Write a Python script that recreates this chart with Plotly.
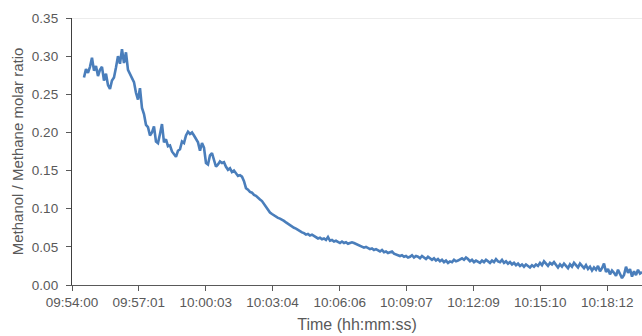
import plotly.graph_objects as go

# Tick labels of the time axis (hh:mm:ss)
tick_labels = ["09:54:00", "09:57:01", "10:00:03", "10:03:04", "10:06:06",
               "10:09:07", "10:12:09", "10:15:10", "10:18:12"]

# Sampling of the read-off trace (seconds after 09:54:00)
start_s = 32.5
step_s = 5.425

# Methanol / methane molar ratio
ratio = [
    0.272, 0.283, 0.278, 0.286, 0.298, 0.281, 0.287, 0.274, 0.282, 0.286,
    0.268, 0.277, 0.262, 0.257, 0.268, 0.272, 0.285, 0.300, 0.290, 0.309,
    0.291, 0.305, 0.282, 0.276, 0.271, 0.266, 0.252, 0.243, 0.258, 0.232,
    0.224, 0.210, 0.207, 0.196, 0.200, 0.208, 0.188, 0.186, 0.198, 0.211,
    0.187, 0.191, 0.182, 0.183, 0.175, 0.172, 0.168, 0.176, 0.178, 0.188,
    0.186, 0.196, 0.201, 0.198, 0.200, 0.196, 0.191, 0.187, 0.176, 0.186,
    0.180, 0.160, 0.158, 0.170, 0.173, 0.165, 0.155, 0.158, 0.162, 0.160,
    0.161, 0.155, 0.151, 0.153, 0.148, 0.150, 0.146, 0.143, 0.144, 0.142,
    0.136, 0.127, 0.125, 0.122, 0.121, 0.118, 0.117, 0.114, 0.112, 0.110,
    0.106, 0.103, 0.099, 0.095, 0.093, 0.091, 0.090, 0.088, 0.087, 0.086,
    0.084, 0.082, 0.080, 0.078, 0.077, 0.075, 0.074, 0.072, 0.070, 0.069,
    0.068, 0.066, 0.067, 0.065, 0.066, 0.064, 0.063, 0.061, 0.062, 0.060,
    0.061, 0.059, 0.063, 0.058, 0.059, 0.057, 0.058, 0.056, 0.055, 0.057,
    0.055, 0.056, 0.054, 0.055, 0.056, 0.055, 0.054, 0.053, 0.052, 0.050,
    0.049, 0.050, 0.048, 0.047, 0.048, 0.046, 0.047, 0.045, 0.044, 0.046,
    0.043, 0.044, 0.042, 0.043, 0.044, 0.041, 0.040, 0.039, 0.038, 0.039,
    0.037, 0.038, 0.036, 0.037, 0.039, 0.036, 0.038, 0.037, 0.035, 0.038,
    0.036, 0.034, 0.037, 0.035, 0.033, 0.035, 0.032, 0.034, 0.031, 0.033,
    0.030, 0.032, 0.029, 0.031, 0.030, 0.033, 0.031, 0.032, 0.034, 0.035,
    0.033, 0.036, 0.034, 0.031, 0.033, 0.030, 0.032, 0.031, 0.029, 0.032,
    0.030, 0.033, 0.031, 0.029, 0.032, 0.030, 0.034, 0.031, 0.030, 0.033,
    0.029, 0.031, 0.028, 0.030, 0.027, 0.029, 0.026, 0.028, 0.025, 0.027,
    0.024, 0.027, 0.025, 0.023, 0.026, 0.024, 0.027, 0.025, 0.029, 0.026,
    0.031, 0.028, 0.025, 0.029, 0.027, 0.030, 0.026, 0.023, 0.027, 0.024,
    0.028, 0.025, 0.022, 0.027, 0.024, 0.029, 0.026, 0.023, 0.028, 0.025,
    0.022, 0.026, 0.021, 0.024, 0.019, 0.023, 0.020, 0.025, 0.018, 0.022,
    0.028, 0.017, 0.021, 0.014, 0.019, 0.016, 0.012, 0.020, 0.015, 0.009,
    0.013, 0.024, 0.016, 0.021, 0.011, 0.018, 0.013, 0.020, 0.015, 0.017,
]

y_ticks = [0.00, 0.05, 0.10, 0.15, 0.20, 0.25, 0.30, 0.35]


def to_seconds(label):
    h, m, s = (int(p) for p in label.split(":"))
    return (h * 3600 + m * 60 + s) - (9 * 3600 + 54 * 60)


tick_vals = [to_seconds(t) for t in tick_labels]
elapsed = [start_s + i * step_s for i in range(len(ratio))]

font_family = "Liberation Sans, Arial, sans-serif"
grey_text = "#595959"

fig = go.Figure()
fig.add_trace(go.Scatter(
    x=elapsed, y=ratio, mode="lines",
    line=dict(color="#4a7ebb", width=2.6),
    hoverinfo="skip", showlegend=False,
))

fig.add_shape(type="line", xref="paper", yref="y", x0=0, x1=1, y0=0.35, y1=0.35,
              line=dict(color="#d9d9d9", width=1), layer="below")

fig.update_layout(
    width=642, height=336,
    margin=dict(l=72, r=0, t=18, b=51),
    paper_bgcolor="white", plot_bgcolor="white",
    font=dict(family=font_family, color=grey_text, size=13.5),
    xaxis=dict(
        automargin=False,
        range=[0, start_s + (len(ratio) - 1) * step_s],
        tickmode="array", tickvals=tick_vals, ticktext=tick_labels,
        showgrid=False, zeroline=False,
        showline=True, linecolor="#595959", linewidth=1.3,
        ticks="outside", ticklen=5, tickcolor="#595959", tickwidth=1,
        tickfont=dict(size=13.5, color=grey_text),
        title=dict(text="Time (hh:mm:ss)", font=dict(size=16, color=grey_text), standoff=9),
    ),
    yaxis=dict(
        automargin=False,
        range=[0, 0.35],
        tickmode="array", tickvals=y_ticks, tickformat=".2f",
        showgrid=False, zeroline=False,
        showline=True, linecolor="#404040", linewidth=1.3,
        ticks="outside", ticklen=5, tickcolor="#595959", tickwidth=1,
        ticklabelstandoff=5,
        tickfont=dict(size=13.5, color=grey_text),
        title=dict(text="Methanol / Methane molar ratio", font=dict(size=15, color=grey_text), standoff=4),
    ),
)

fig.write_html("out.html", config={"displayModeBar": False},
               post_script="document.body.style.margin='0';")
